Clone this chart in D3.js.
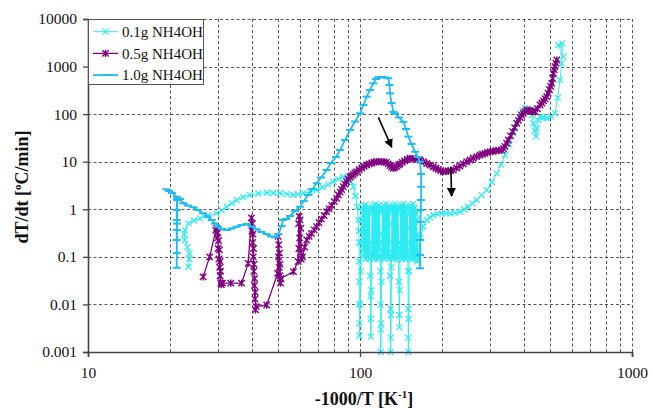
<!DOCTYPE html>
<html>
<head>
<meta charset="utf-8">
<script src="https://cdn.jsdelivr.net/npm/d3@7"></script>
<style>
  body { margin: 0; background: #fff; }
  svg { display: block; }
  text { font-family: "Liberation Serif", "Times New Roman", serif; }
</style>
</head>
<body>
<svg width="653" height="408"></svg>
<script>
const width = 653;
const height = 408;
const margin = { left: 88, right: 21, top: 19, bottom: 56 };

const xTicks = [10, 100, 1000];
const yTicks = [0.001, 0.01, 0.1, 1, 10, 100, 1000, 10000];
const seriesNames = ["0.1g NH4OH", "0.5g NH4OH", "1.0g NH4OH"];

// [-1000/T, dT/dt]
const dose01 = [
  [23.4,0.062],[23.6,0.09],[23.6,0.119],[23.2,0.16],[22.7,0.226],[22.6,0.3],[22.7,0.366],[23.4,0.507],
  [24.5,0.58],[25.8,0.646],[27.6,0.73],[29.7,0.82],[31.0,0.95],[32.4,1.13],[33.8,1.35],[35.2,1.57],
  [37.2,1.8],[39.4,2.0],[42.3,2.15],[45.4,2.23],[48.0,2.2],[50.8,2.17],[53.8,2.08],[56.9,2.0],
  [59.3,2.08],[61.9,2.17],[65.5,2.35],[69.3,2.54],[72.8,2.9],[76.3,3.3],[79.8,3.8],[83.2,4.3],
  [86.8,4.84],[90.6,4.48],[92.6,3.8],[94.5,2.98],[96.2,1.9],[97.7,1.13],[98.6,0.6],[99.0,0.35],
  // unstable region
  [99.2,0.2],[99.3,0.08],[99.4,0.03],[99.4,0.01],[99.5,0.004],[99.5,0.0022],[100.2,0.01],[100.6,0.05],
  [101,0.2],[101.5,0.6],[102,1.1],
  [102.4,0.13],[102.8,0.9],[103.2,0.1],[103.6,1.2],[104.0,0.15],[104.4,1.0],[104.8,0.09],[105.2,1.25],
  [105.6,0.12],[106.0,0.95],[106.4,0.1],[106.8,1.1],[107.2,0.14],[107.6,1.0],[108.0,0.09],[108.4,0.8],
  [108.8,0.12],[109.1,0.04],[109.3,0.015],[109.5,0.005],[109.6,0.0021],[110.0,0.02],[110.4,0.2],[110.8,1.1],
  [111.2,0.1],[111.6,1.0],[112.0,0.12],[112.4,1.2],[112.8,0.09],[113.2,1.0],[113.6,0.14],[114.0,1.3],
  [114.4,0.1],[114.8,0.9],[115.2,0.12],[115.6,1.15],[116.0,0.09],[116.4,1.0],[116.8,0.15],[117.2,1.2],
  [117.6,0.1],[118.0,0.9],[118.4,0.2],[118.8,0.05],[119.0,0.01],[119.2,0.003],[119.2,0.001],[119.6,0.004],
  [120.0,0.03],[120.4,0.3],[120.8,1.1],[121.2,0.1],[121.6,1.0],[122.0,0.13],[122.4,1.2],[122.8,0.09],
  [123.2,0.95],[123.6,0.12],[124.0,1.1],[124.5,0.1],[124.9,1.3],[125.3,0.15],[125.7,1.0],[126.1,0.1],
  [126.5,1.15],[126.9,0.12],[127.3,0.9],[127.7,0.09],[128.1,1.1],[128.5,0.2],[129.0,0.04],[129.4,0.008],
  [129.7,0.002],[129.7,0.001],[130.1,0.006],[130.5,0.06],[130.9,0.5],[131.3,1.1],[131.7,0.1],[132.1,1.0],
  [132.5,0.12],[132.9,1.2],[133.3,0.09],[133.8,0.95],[134.2,0.13],[134.6,1.3],[135.0,0.1],[135.4,1.0],
  [135.9,0.12],[136.3,1.15],[136.7,0.09],[137.1,0.9],[137.6,0.14],[138.0,1.1],[138.5,0.15],[139.0,0.03],
  [139.4,0.006],[139.6,0.0033],[140.0,0.02],[140.4,0.2],[140.9,1.1],[141.3,0.1],[141.8,1.0],[142.2,0.13],
  [142.7,1.2],[143.1,0.09],[143.6,0.95],[144.0,0.12],[144.6,1.3],[145.0,0.1],[145.5,1.0],[146.0,0.14],
  [146.4,1.15],[146.9,0.09],[147.3,0.9],[147.8,0.12],[148.3,1.1],[148.8,0.1],[149.3,0.8],[149.8,0.2],
  [150.1,0.05],[150.4,0.008],[150.5,0.002],[150.5,0.001],[151.0,0.005],[151.5,0.05],[152.0,0.4],[152.5,1.1],
  [153.0,0.1],[153.5,1.0],[154.0,0.13],[154.5,1.2],[155.0,0.09],[155.5,0.95],[156.0,0.12],[156.6,1.3],
  [157.1,0.1],[157.6,1.0],[158.1,0.14],[158.6,1.1],[159.1,0.09],[159.7,0.9],[160.2,0.12],[160.7,0.8],
  [161.3,0.1],[161.8,0.6],[162.4,0.08],[163.0,0.3],[163.5,0.09],
  // recovery
  [163.8,0.109],[167,0.25],[170.9,0.43],[175.9,0.596],[181,0.68],[186,0.758],[193,0.8],[199.7,0.82],
  [207,0.82],[214.2,0.82],[223,0.85],[233.1,0.889],[241.5,1.0],[250.1,1.13],[259,1.33],[268.5,1.57],
  [280,1.98],[292.4,2.54],[305,3.7],[318.2,5.7],[330,8.7],[341.4,13.8],[354,23],[366.1,39.6],
  [377,65],[387.5,104],[396,120],[404.3,133],[413,130],[421.7,122],[428,95],[433.6,64],
  [438,45],[443.7,33.6],[447,50],[452.4,75],[459,88],[472,85],[485.8,82],[503,90],
  [521.2,104],[533,220],[543.6,522],[551.5,1170],[555,3080],[536,2840],[559,1613]
];

const dose05 = [
  [26.5,0.038],[28.0,0.1],[29.5,0.36],
  [29.7,0.40],[29.9,0.25],[30.0,0.32],[30.1,0.15],[30.2,0.22],[30.3,0.09],[30.4,0.14],[30.5,0.06],
  [30.6,0.08],[30.6,0.04],[30.7,0.05],[30.8,0.028],[30.9,0.026],[31.2,0.028],
  [33.5,0.028],[36.7,0.028],[38.8,0.073],
  [39.9,0.66],[40.1,0.35],[40.2,0.5],[40.3,0.2],[40.4,0.3],[40.5,0.1],[40.6,0.15],[40.7,0.05],
  [40.8,0.07],[40.9,0.025],[41.0,0.035],[41.1,0.013],[41.2,0.018],[41.3,0.0077],[41.5,0.009],
  [45.4,0.0097],[49.8,0.045],
  [50.0,0.27],[50.2,0.1],[50.3,0.18],[50.5,0.06],[50.6,0.12],[50.7,0.04],[50.8,0.07],[51.0,0.028],[51.2,0.035],
  [56.9,0.049],
  [59.2,0.08],[59.5,0.5],[59.6,0.15],[59.8,0.71],[60.0,0.25],[60.2,0.6],[60.4,0.12],[60.6,0.4],[60.8,0.09],[61.5,0.1],
  [62.6,0.16],[63.7,0.226],[65.0,0.27],[66.3,0.31],[67.8,0.37],[69.3,0.43],[70.7,0.52],[72.2,0.62],
  [73.8,0.74],[75.4,0.889],[77.0,1.02],[78.7,1.2],[80.4,1.45],[82.1,1.7],[83.3,2.0],[84.5,2.3],
  [85.6,2.6],[86.8,2.98],[88.0,3.4],[89.3,3.8],[90.5,4.3],[91.8,4.77],[93.1,5.1],[94.5,5.4],
  [95.8,5.8],[97.2,6.17],[99.3,6.8],[101.5,7.4],[103.6,8.0],[105.8,8.53],[108.1,9.0],[110.5,9.4],
  [112.7,9.8],[115,10],[117.5,10.1],[120,9.9],[122.5,9.9],[125,9.7],[127,9.0],[129,8.3],
  [130.8,7.7],[132.6,7.27],[134.5,7.6],[136.5,8.0],[138.3,8.5],[140.2,8.96],[143,9.7],[146,10.4],
  [149.2,11.1],[152.6,11.8],[155.8,11.6],[159,11.4],[162.5,11.2],[166.2,10.9],[171,10.0],[176,9.2],
  [181,8.5],[186,7.85],[190,7.3],[194,6.9],[198,6.5],[202.5,6.17],[206.7,6.3],[211,6.4],
  [215.6,6.5],[220.3,6.7],[226.5,7.4],[233,8.1],[239.8,9.0],[246.8,10],[253.8,10.9],[261,11.8],
  [268.5,12.8],[276.2,13.8],[282,14.4],[288,15],[294.2,15.6],[300.6,16.2],[308,16.6],[316,17],
  [324,17.3],[332,17.6],[336.5,19],[341,21],[346,24.5],[351,28.6],[357.5,35],[364,43],
  [370.3,52],[376.8,64],[382.3,74],[388,85],[393,95],[398.4,104],[404,113],[410,122],
  [417.5,119],[425,116],[432.5,114],[440,112],[449,130],[459,156],[466,172],[473,190],
  [479.3,210],[485.8,233],[491.3,275],[497,330],[502,385],[507,445],[510.5,560],[514,722],
  [517.5,850],[521,1000],[525,1180],[529,1375]
];

const dose10 = [
  [19.4,2.63],[19.85,2.42],[20.35,2.2],[21.2,1.84],[21.2,1.57],[21.2,0.966],[21.2,0.596],[21.2,0.366],
  [21.2,0.226],[21.2,0.12],[21.2,0.059],[21.25,0.5],[21.3,1.7],
  [21.8,1.64],[22.4,1.34],[23.3,1.2],[24.4,1.1],[25.4,0.966],[26.5,0.82],[27.5,0.705],[28.5,0.596],
  [29.3,0.502],[30.1,0.43],[31.1,0.385],[32.4,0.366],[33.7,0.394],[35.2,0.43],[36.7,0.467],[38.3,0.49],
  [39.9,0.435],[41.7,0.38],[43.4,0.333],[45.4,0.3],[47.1,0.268],[48.7,0.258],[50.1,0.3],[51.5,0.446],
  [52.1,0.596],[53.5,0.625],[55.3,0.723],[57.7,0.92],[60.2,1.13],[62.2,1.49],[64.4,2.0],[66.9,2.67],
  [69.3,3.52],[71.9,4.66],[75.4,6.7],[78.2,9.4],[81.6,12.6],[84.4,17.6],[88.1,28.6],[91.9,46.4],
  [95.9,70],[100,104],[103,156],[105.8,233],[108.8,322],[111.9,445],[114.5,548],[116.8,595],
  [120.4,604],[124.1,589],[127.1,567],[128.3,410],[128.9,274],[130.6,171],[132.6,112],[134.5,104],
  [139.1,85],[144.3,69],[147.6,48.7],[150.5,33.6],[154.6,23.6],[159.3,16.2],[163.4,12.6],[166.2,10],
  [167.6,5.5],[167.8,2.98],[167.6,1.57],[167.3,0.966],[166.9,0.548],[166.6,0.226],[166.4,0.109],[166.2,0.0575]
];

// annotation arrows, [from, to]
const arrows = [
  [[116.8, 85.7], [130.8, 20.1]],
  [[215.6, 7.85], [217.3, 1.9]]
];

const series = [
  { name: seriesNames[0], data: dose01, color: "#2eebf2", marker: "cross", width: 1, markWidth: 1.2 },
  { name: seriesNames[1], data: dose05, color: "#800080", marker: "star", width: 1.3, markWidth: 1.4 },
  { name: seriesNames[2], data: dose10, color: "#20bdef", marker: "dash", width: 1.8, markWidth: 2 }
];

const markerPath = {
  cross: "M-3,-3L3,3M-3,3L3,-3",
  star: "M-3.2,-3.2L3.2,3.2M-3.2,3.2L3.2,-3.2M0,-3.6L0,3.6",
  dash: "M-4,0L4,0"
};

const svg = d3.select("svg");

const x = d3.scaleLog()
  .domain([10, 1000])
  .range([margin.left, width - margin.right]);
const y = d3.scaleLog()
  .domain([0.001, 10000])
  .range([height - margin.bottom, margin.top]);

// dashed grid
const grid = svg.append("g")
  .attr("stroke", "#555")
  .attr("stroke-width", 1)
  .attr("stroke-dasharray", "3,2.5");

grid.selectAll("line.v")
  .data(x.ticks().filter(d => d > 10))
  .join("line")
  .attr("class", "v")
  .attr("x1", d => Math.round(x(d)) + 0.5)
  .attr("x2", d => Math.round(x(d)) + 0.5)
  .attr("y1", y(10000))
  .attr("y2", y(0.001));

grid.selectAll("line.h")
  .data(yTicks.filter(d => d > 0.001))
  .join("line")
  .attr("class", "h")
  .attr("x1", x(10))
  .attr("x2", x(1000))
  .attr("y1", d => Math.round(y(d)) + 0.5)
  .attr("y2", d => Math.round(y(d)) + 0.5);

// series
const line = d3.line()
  .x(d => x(d[0]))
  .y(d => y(d[1]));

series.forEach(s => {
  const g = svg.append("g");
  g.append("path")
    .datum(s.data)
    .attr("fill", "none")
    .attr("stroke", s.color)
    .attr("stroke-width", s.width)
    .attr("d", line);
  g.selectAll("path.mark")
    .data(s.data)
    .join("path")
    .attr("class", "mark")
    .attr("transform", d => `translate(${x(d[0])},${y(d[1])})`)
    .attr("d", markerPath[s.marker])
    .attr("stroke", s.color)
    .attr("stroke-width", s.markWidth)
    .attr("fill", "none");
});

// axes
const yAxis = svg.append("g")
  .attr("transform", `translate(${margin.left},0)`)
  .call(d3.axisLeft(y)
    .tickValues(yTicks)
    .tickFormat(d => String(d))
    .tickSize(5)
    .tickPadding(6));

const xAxis = svg.append("g")
  .attr("transform", `translate(0,${height - margin.bottom})`)
  .call(d3.axisBottom(x)
    .tickValues(xTicks)
    .tickFormat(d => String(d))
    .tickSize(5)
    .tickPadding(10));

[xAxis, yAxis].forEach(a => {
  a.attr("font-family", "Liberation Serif, serif").attr("font-size", 15.5);
  a.select(".domain").attr("stroke", "#444").attr("stroke-width", 1.6);
  a.selectAll(".tick line").attr("stroke", "#444").attr("stroke-width", 1.3);
  a.selectAll(".tick text").attr("fill", "#111");
});

// arrows
svg.append("defs").append("marker")
  .attr("id", "head")
  .attr("viewBox", "0 0 10 10")
  .attr("refX", 9)
  .attr("refY", 5)
  .attr("markerWidth", 9)
  .attr("markerHeight", 9)
  .attr("markerUnits", "userSpaceOnUse")
  .attr("orient", "auto")
  .append("path")
  .attr("d", "M0,0L10,5L0,10Z")
  .attr("fill", "#000");

svg.append("g")
  .selectAll("line")
  .data(arrows)
  .join("line")
  .attr("x1", d => x(d[0][0]))
  .attr("y1", d => y(d[0][1]))
  .attr("x2", d => x(d[1][0]))
  .attr("y2", d => y(d[1][1]))
  .attr("stroke", "#000")
  .attr("stroke-width", 1.6)
  .attr("marker-end", "url(#head)");

// legend
const legend = svg.append("g");
legend.append("rect")
  .attr("x", margin.left + 0.5)
  .attr("y", margin.top + 0.5)
  .attr("width", 115)
  .attr("height", 65)
  .attr("fill", "#fff")
  .attr("stroke", "#555");

const item = legend.selectAll("g.item")
  .data(series)
  .join("g")
  .attr("class", "item")
  .attr("transform", (d, i) => `translate(${margin.left + 5},${31.7 + i * 21.7})`);

item.append("line")
  .attr("x1", 0).attr("x2", 25)
  .attr("stroke", d => d.color)
  .attr("stroke-width", d => d.width);

item.append("path")
  .attr("transform", "translate(12.5,0)")
  .attr("d", d => markerPath[d.marker])
  .attr("stroke", d => d.color)
  .attr("stroke-width", d => d.markWidth)
  .attr("fill", "none");

item.append("text")
  .attr("x", 29)
  .attr("dy", "0.35em")
  .attr("font-size", 15)
  .attr("fill", "#111")
  .text(d => d.name);

// axis titles
const yTitle = svg.append("text")
  .attr("transform", "translate(28,187) rotate(-90)")
  .attr("text-anchor", "middle")
  .attr("font-size", 18)
  .attr("font-weight", "bold")
  .attr("fill", "#111");
yTitle.append("tspan").text("dT/dt [");
yTitle.append("tspan").attr("font-size", 11).attr("dy", -7).text("o");
yTitle.append("tspan").attr("dy", 7).text("C/min]");

const xTitle = svg.append("text")
  .attr("x", 364)
  .attr("y", 405)
  .attr("text-anchor", "middle")
  .attr("font-size", 18)
  .attr("font-weight", "bold")
  .attr("fill", "#111");
xTitle.append("tspan").text("-1000/T [K");
xTitle.append("tspan").attr("font-size", 11).attr("dy", -7).text("-1");
xTitle.append("tspan").attr("dy", 7).text("]");
</script>
</body>
</html>
